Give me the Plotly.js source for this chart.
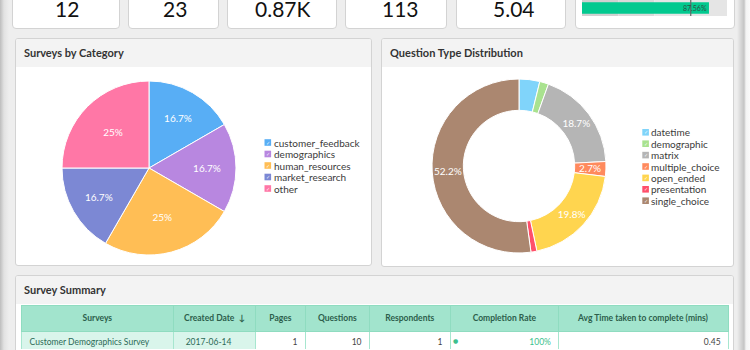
<!DOCTYPE html>
<html><head><meta charset="utf-8">
<script src="https://cdn.plot.ly/plotly-3.0.1.min.js"></script>
<style>
html,body{margin:0;padding:0;width:750px;height:350px;overflow:hidden;background:#eeeeee;font-family:Lato,"Open Sans",sans-serif;}
.abs{position:absolute;box-sizing:border-box;}
.card{background:#fff;border:1px solid #d3d3d3;border-radius:0 0 4px 4px;top:-10px;height:39px;}
.panel{background:#fff;border:1px solid #d3d3d3;border-radius:3px;overflow:hidden;}
.hd{background:#f3f3f3;height:28px;line-height:28px;padding-left:8px;font-size:11px;font-weight:700;color:#333;}
#plot{position:absolute;left:0;top:0;width:750px;height:350px;}
</style></head><body>
<div class="abs" style="left:0;top:0;width:9px;height:350px;background:linear-gradient(to right,#bdbdbd,#e2e2e2 4px,#eeeeee 9px);"></div>
<div class="abs" style="left:737px;top:0;width:13px;height:350px;background:linear-gradient(to right,#eeeeee,#d0d0d0 5px,#c4c4c4 7px,#f4f4f4 9px,#fafafa);"></div>
<div class="abs card" style="left:12px;width:108px;"></div>
<div class="abs card" style="left:128px;width:91px;"></div>
<div class="abs card" style="left:227px;width:110px;"></div>
<div class="abs card" style="left:345px;width:102px;"></div>
<div class="abs card" style="left:456px;width:110px;"></div>
<div class="abs card" style="left:575px;width:160px;"></div>
<div class="abs panel" style="left:15px;top:38px;width:357px;height:228px;"><div class="hd">Surveys by Category</div></div>
<div class="abs panel" style="left:381px;top:38px;width:353px;height:229px;"><div class="hd">Question Type Distribution</div></div>
<div class="abs panel" style="left:15px;top:275px;width:719px;height:100px;"><div class="hd" style="height:28px;line-height:28px;">Survey Summary</div></div>
<div id="plot"></div>
<script>
// ---- data ----
const kpiValues = ['12', '23', '0.87K', '113', '5.04'];
const categories = ['customer_feedback', 'demographics', 'human_resources', 'market_research', 'other'];
const categoryCounts = [2, 2, 3, 2, 3];
const questionTypes = ['datetime', 'demographic', 'matrix', 'multiple_choice', 'open_ended', 'presentation', 'single_choice'];
const questionCounts = [7, 3, 34, 5, 36, 2, 95];
const completionRate = [87.56];
const completionTarget = [75];
const completionBands = [25, 50, 100];
const tableHeaders = ['Surveys', 'Created Date \u00a0\u2193', 'Pages', 'Questions', 'Respondents', 'Completion Rate', 'Avg Time taken to complete (mins)'];
const surveyNames = ['Customer Demographics Survey'];
const createdDates = ['2017-06-14'];
const pages = [1];
const questions = [10];
const respondents = [1];
const completionRates = ['100%'];
const avgTimes = ['0.45'];

// ---- style ----
// label handling for donut slices: 'in' = plotly inside text, 'ring' = centred on ring, '' = none
const questionLabelMode = ['', '', 'in', 'ring', 'in', '', 'in'];
const categoryColors = ['#58aef5', '#b887e0', '#ffbe55', '#7c88d4', '#ff77a6'];
const questionColors = ['#80d4fa', '#a9e28f', '#b5b5b5', '#ff8a5d', '#ffd54f', '#ff4f6a', '#ab8770'];
const W = 750, H = 350;
const px = x => x / W;
const py = y => 1 - y / H;
const FONT = 'Lato, "Open Sans", sans-serif';
const donutBox = {x0: 432, x1: 606, y0: 79, y1: 253};
const donutHole = 0.64;

const annotations = [];
const shapes = [];

// KPI values
const kpiX = [67, 175, 282, 400, 514];
kpiValues.forEach((v, i) => annotations.push({
  xref: 'paper', yref: 'paper', x: px(kpiX[i]), y: py(8), xanchor: 'center', yanchor: 'middle',
  text: v, showarrow: false, font: {family: FONT, size: 21, color: '#111'}
}));

// custom legends
function legend(labels, colors, sqX, textX, y0, dy) {
  labels.forEach((lab, i) => {
    const y = y0 + i * dy;
    shapes.push({type: 'rect', xref: 'paper', yref: 'paper', x0: px(sqX), x1: px(sqX + 6.6), y0: py(y - 3.3), y1: py(y + 3.3),
      fillcolor: colors[i], line: {width: 0}});
    annotations.push({xref: 'paper', yref: 'paper', x: px(sqX + 3.3), y: py(y), xanchor: 'center', yanchor: 'middle',
      text: '\u2713', showarrow: false, borderpad: 0, font: {family: 'DejaVu Sans', size: 5, color: 'rgba(255,255,255,0.9)'}});
    annotations.push({xref: 'paper', yref: 'paper', x: px(textX), y: py(y), xanchor: 'left', yanchor: 'middle',
      text: lab, showarrow: false, borderpad: 0, font: {family: FONT, size: 10, color: '#3a3a3a'}});
  });
}
legend(categories, categoryColors, 264.5, 272.5, 142.5, 11.5);
legend(questionTypes, questionColors, 642.3, 650.3, 132.3, 11.4);

// donut labels too narrow for plotly's inside text: centre them on the ring, from the data
(function () {
  const total = questionCounts.reduce((a, b) => a + b, 0);
  const cx = (donutBox.x0 + donutBox.x1) / 2, cy = (donutBox.y0 + donutBox.y1) / 2;
  const R = (donutBox.x1 - donutBox.x0) / 2, rMid = R * (1 + donutHole) / 2;
  let cum = 0;
  questionCounts.forEach((v, i) => {
    const mid = (cum + v / 2) / total * 2 * Math.PI;
    cum += v;
    if (questionLabelMode[i] !== 'ring') return;
    annotations.push({xref: 'paper', yref: 'paper', x: px(cx + rMid * Math.sin(mid)), y: py(cy - rMid * Math.cos(mid)),
      xanchor: 'center', yanchor: 'middle', showarrow: false, borderpad: 0,
      text: (v / total * 100).toFixed(1) + '%', font: {family: FONT, size: 10, color: '#fff'}});
  });
})();

// bullet target marker + label
shapes.push({type: 'line', xref: 'x', yref: 'paper', x0: completionTarget[0], x1: completionTarget[0], y0: py(16), y1: py(0),
  line: {color: '#666', width: 1.2}});
annotations.push({xref: 'x', yref: 'paper', x: completionRate[0], y: py(8), xanchor: 'right', yanchor: 'middle',
  text: completionRate[0].toFixed(2) + '%', showarrow: false, font: {family: FONT, size: 7, color: '#2f4f45'}});

// completion dot in table
annotations.push({xref: 'paper', yref: 'paper', x: px(455), y: py(340.5), xanchor: 'center', yanchor: 'middle',
  text: '\u25cf', showarrow: false, font: {family: 'DejaVu Sans', size: 6, color: '#3dbf8e'}});

const bandColors = ['#d0d0d0', '#d9d9d9', '#e5e5e5'];
const bandTraces = completionBands.map((b, i) => ({
  type: 'bar', orientation: 'h', y: [0], x: [b - (i ? completionBands[i - 1] : 0)], base: [i ? completionBands[i - 1] : 0],
  width: 1, marker: {color: bandColors[i]}, xaxis: 'x', yaxis: 'y', hoverinfo: 'skip', showlegend: false
}));

const data = [
  ...bandTraces,
  {type: 'bar', orientation: 'h', y: [0], x: completionRate, width: 0.72, marker: {color: '#02c98f'},
   xaxis: 'x', yaxis: 'y', showlegend: false},
  {type: 'pie', labels: categories, values: categoryCounts, sort: false, direction: 'clockwise', rotation: 0,
   marker: {colors: categoryColors, line: {color: '#fff', width: 1}},
   textinfo: 'percent', textposition: 'inside', insidetextorientation: 'horizontal',
   insidetextfont: {family: FONT, size: 10, color: '#fff'},
   domain: {x: [px(62), px(236)], y: [py(255), py(81)]}, showlegend: false},
  {type: 'pie', labels: questionTypes, values: questionCounts, sort: false, direction: 'clockwise', rotation: 0, hole: donutHole,
   marker: {colors: questionColors, line: {color: '#fff', width: 1}},
   texttemplate: questionLabelMode.map(m => m === 'in' ? '%{percent:.1%}' : ''), textposition: 'inside', insidetextorientation: 'horizontal',
   insidetextfont: {family: FONT, size: 10, color: '#fff'},
   domain: {x: [px(donutBox.x0), px(donutBox.x1)], y: [py(donutBox.y1), py(donutBox.y0)]}, showlegend: false},
  {type: 'table', domain: {x: [px(21.6), px(729.5)], y: [0, py(305)]},
   columnwidth: [152, 82.5, 49.7, 64.3, 81, 108.7, 170],
   header: {values: tableHeaders.map(h => '<b>' + h + '</b>'), height: 22.5, align: 'center',
     fill: {color: '#a2e4cd'}, line: {color: '#8fdcc0', width: 1},
     font: {family: FONT, size: 8.5, color: '#2c5e4b'}},
   cells: {values: [surveyNames, createdDates.map(d => '\u00a0\u00a0' + d), pages, questions, respondents, completionRates, avgTimes], height: 22,
     align: ['left', 'left', 'right', 'right', 'right', 'right', 'right'],
     fill: {color: [['#d9f5eb'], ['#d9f5eb'], ['#fff'], ['#fff'], ['#fff'], ['#fff'], ['#fff']]},
     line: {color: '#a7e6cf', width: 1},
     font: {family: FONT, size: 8.5, color: [['#2c6a57'], ['#2c6a57'], ['#444'], ['#444'], ['#444'], ['#3dbf8e'], ['#444']]}}}
];

const layout = {
  width: W, height: H, margin: {l: 0, r: 0, t: 0, b: 0},
  paper_bgcolor: 'rgba(0,0,0,0)', plot_bgcolor: 'rgba(0,0,0,0)',
  showlegend: false, barmode: 'overlay',
  xaxis: {domain: [px(582), px(727)], range: [0, 100], visible: false, fixedrange: true},
  yaxis: {domain: [py(16), py(0)], range: [-0.5, 0.5], visible: false, fixedrange: true},
  annotations: annotations, shapes: shapes,
  font: {family: FONT}
};
Plotly.newPlot('plot', data, layout, {staticPlot: true, displayModeBar: false});
</script>
</body></html>
